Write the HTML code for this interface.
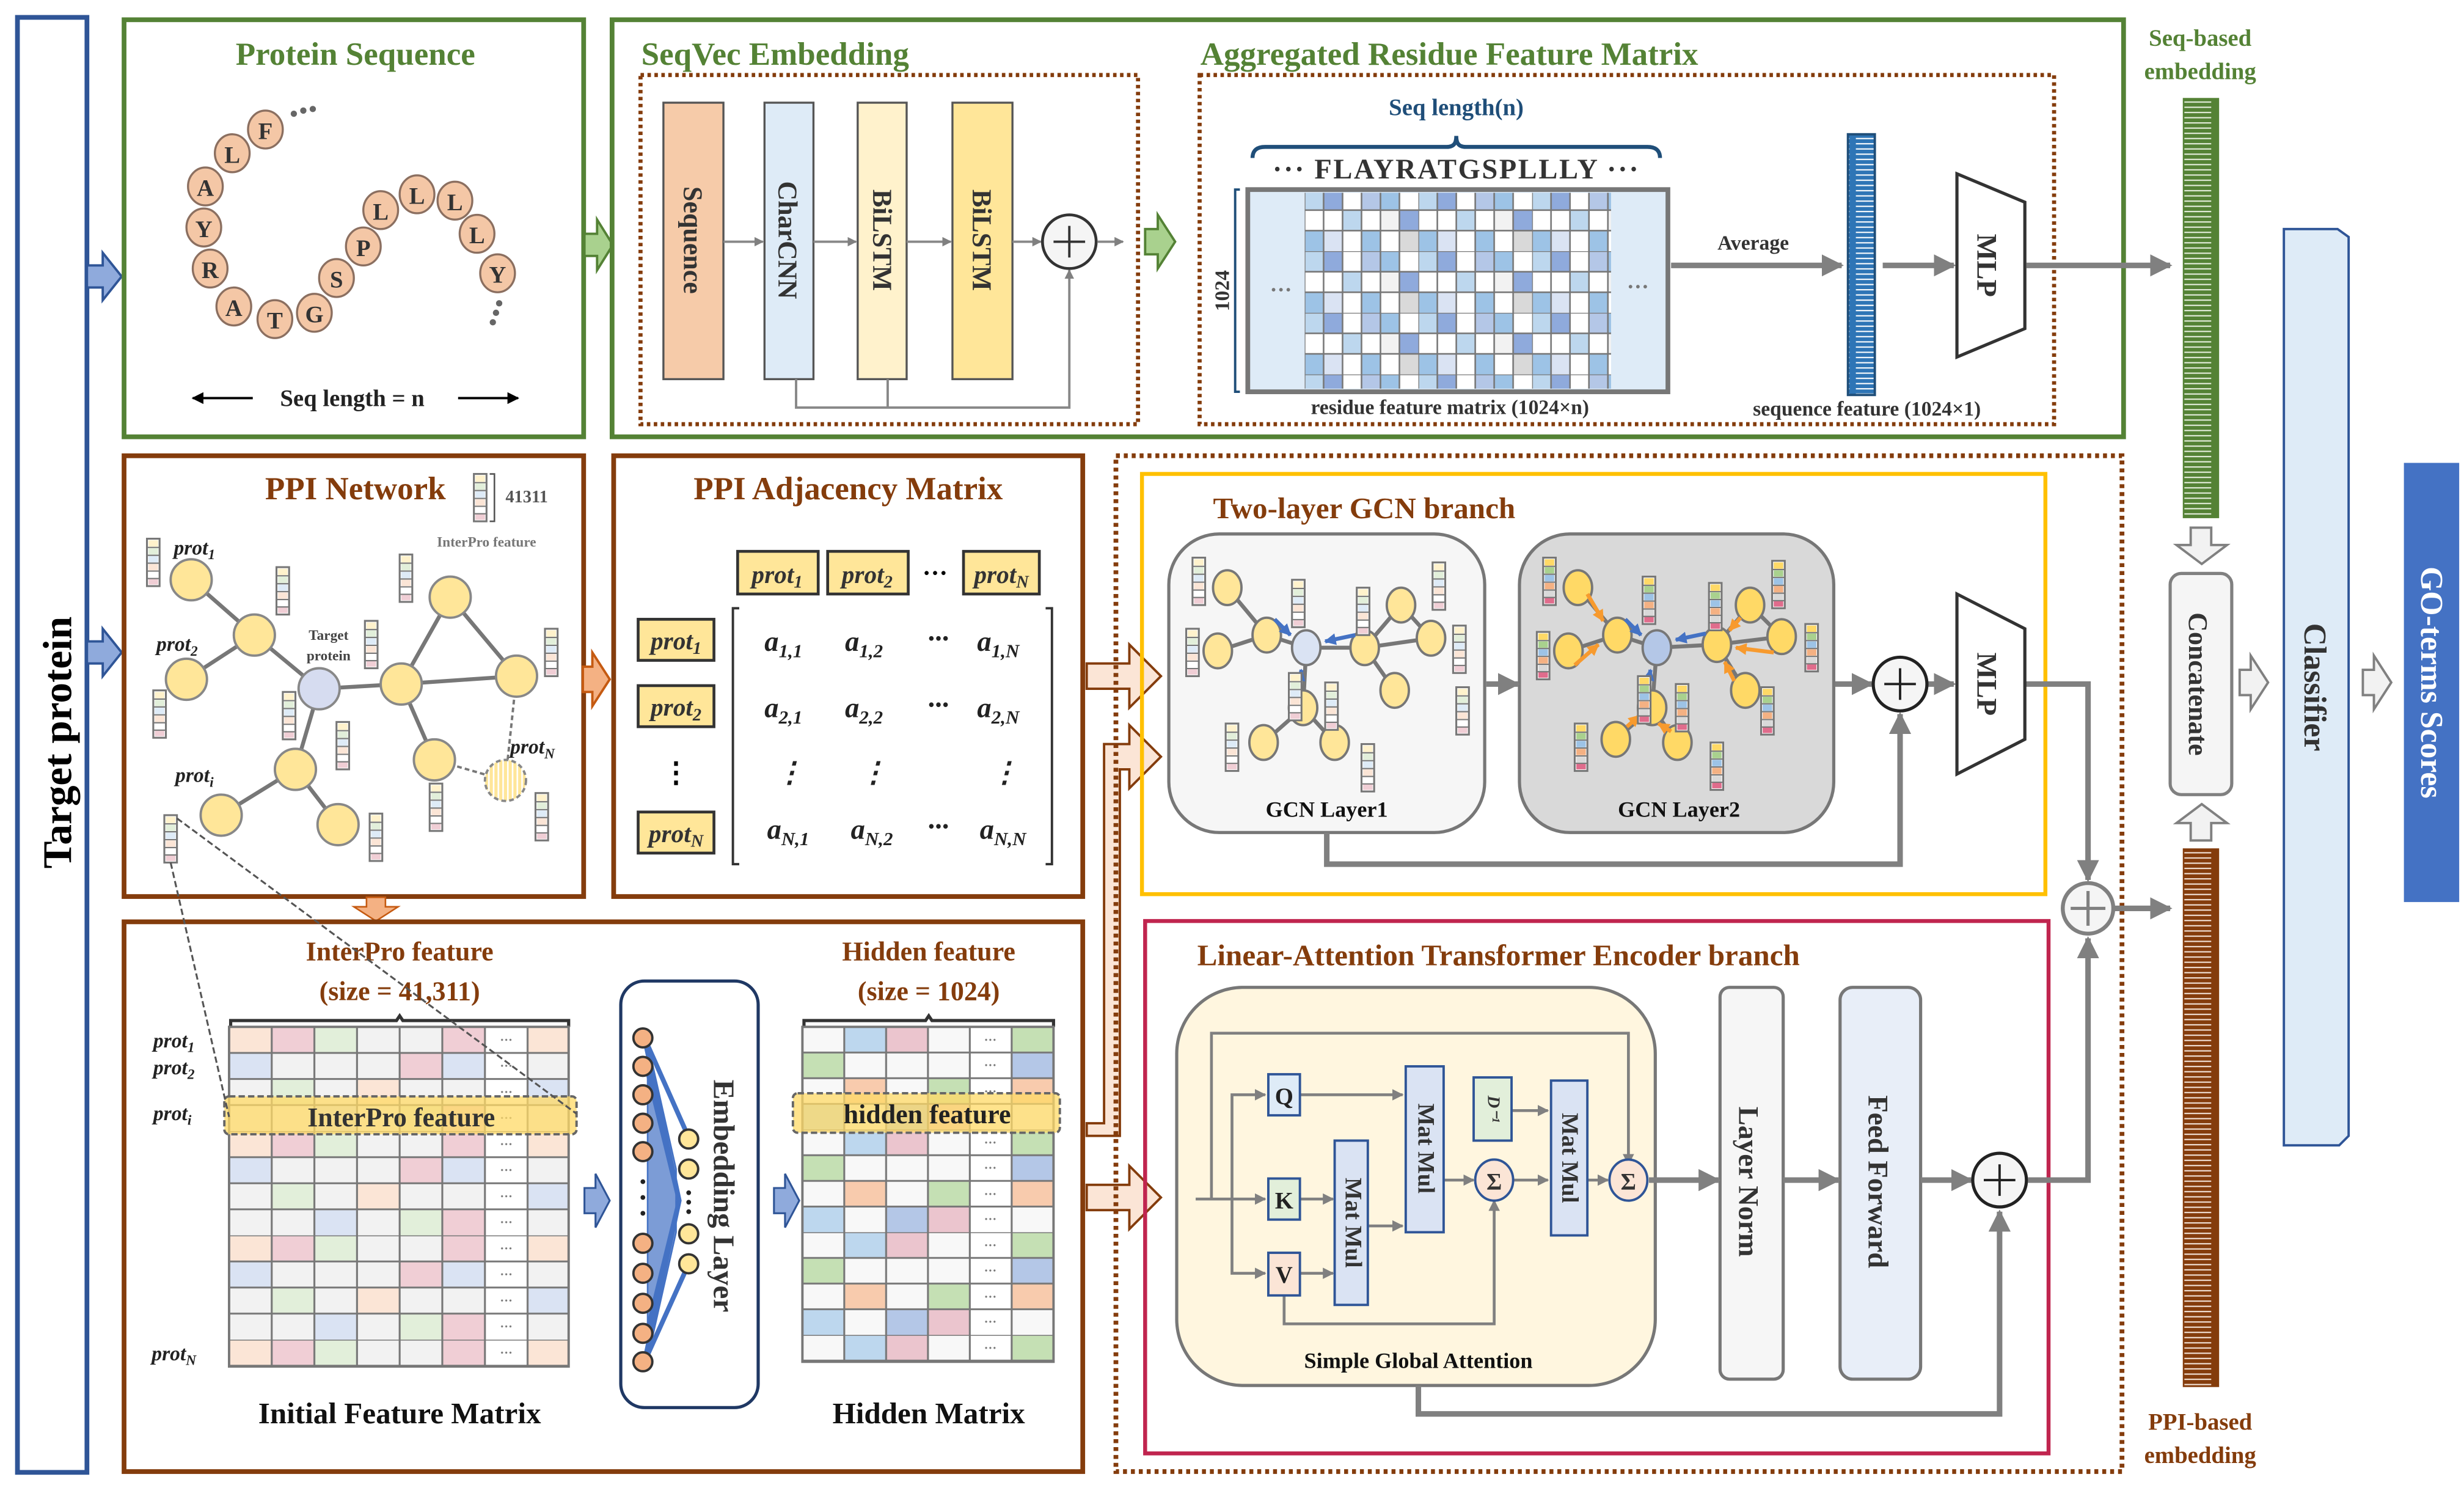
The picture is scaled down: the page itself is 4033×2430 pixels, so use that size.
<!DOCTYPE html>
<html><head><meta charset="utf-8"><style>
html,body{margin:0;padding:0;background:#fff;}
svg{display:block;}
text{font-family:"Liberation Serif",serif;font-weight:bold;}
</style></head><body>
<svg width="4033" height="2430" viewBox="0 0 1560 940" xmlns="http://www.w3.org/2000/svg">
<defs>
<marker id="ag" viewBox="0 0 10 10" refX="9" refY="5" markerWidth="4" markerHeight="4" orient="auto"><path d="M0,0L10,5L0,10z" fill="#808080"/></marker>
<marker id="ab" viewBox="0 0 10 10" refX="9" refY="5" markerWidth="3" markerHeight="3" orient="auto"><path d="M0,0L10,5L0,10z" fill="#4472C4"/></marker>
<marker id="ao" viewBox="0 0 10 10" refX="9" refY="5" markerWidth="3" markerHeight="3" orient="auto"><path d="M0,0L10,5L0,10z" fill="#F79A2E"/></marker>
<marker id="ak" viewBox="0 0 10 10" refX="9" refY="5" markerWidth="5" markerHeight="5" orient="auto"><path d="M0,0L10,5L0,10z" fill="#000"/></marker>
<pattern id="gs" width="23" height="3.3" patternUnits="userSpaceOnUse"><rect width="23" height="3.3" fill="#548235"/><rect x="3" y="1.5" width="17" height="0.8" fill="#e8f0e0"/></pattern>
<pattern id="bs" width="23" height="3.3" patternUnits="userSpaceOnUse"><rect width="23" height="3.3" fill="#843C0C"/><rect x="3" y="1.5" width="17" height="0.8" fill="#f5e6dc"/></pattern>
<pattern id="us" width="17" height="3.3" patternUnits="userSpaceOnUse"><rect width="17" height="3.3" fill="#2E75B6"/><rect x="2" y="1.5" width="13" height="0.8" fill="#fff"/></pattern>
<pattern id="rm" x="826" y="120" width="72" height="39" patternUnits="userSpaceOnUse">
<rect width="72" height="39" fill="#fff"/>
<rect x="0" y="0" width="12" height="13" fill="#BDD7EE"/><rect x="12" y="0" width="12" height="13" fill="#8FAADC"/><rect x="36" y="0" width="12" height="13" fill="#B4C7E7"/><rect x="48" y="0" width="12" height="13" fill="#9DC3E6"/>
<rect x="24" y="13" width="12" height="13" fill="#BDD7EE"/><rect x="48" y="13" width="12" height="13" fill="#F2F2F2"/><rect x="60" y="13" width="12" height="13" fill="#8FAADC"/>
<rect x="0" y="26" width="12" height="13" fill="#9DC3E6"/><rect x="12" y="26" width="12" height="13" fill="#DAE3F3"/><rect x="36" y="26" width="12" height="13" fill="#9DC3E6"/><rect x="60" y="26" width="12" height="13" fill="#D9D9D9"/>
<path d="M0,0H72M0,13H72M0,26H72M0,0V39M12,0V39M24,0V39M36,0V39M48,0V39M60,0V39" stroke="#777" stroke-width="1" fill="none"/>
</pattern>
<pattern id="fm" x="145" y="650" width="215" height="66" patternUnits="userSpaceOnUse">
<rect width="215" height="66" fill="#F2F2F2"/>
<rect x="0" y="0" width="27" height="16.5" fill="#FBE5D6"/><rect x="27" y="0" width="27" height="16.5" fill="#F0CED5"/><rect x="54" y="0" width="27" height="16.5" fill="#E2EFDA"/><rect x="135" y="0" width="27" height="16.5" fill="#F0CED5"/><rect x="189" y="0" width="26" height="16.5" fill="#FBE5D6"/>
<rect x="0" y="16.5" width="27" height="16.5" fill="#DAE3F3"/><rect x="108" y="16.5" width="27" height="16.5" fill="#F0CED5"/><rect x="135" y="16.5" width="27" height="16.5" fill="#DAE3F3"/>
<rect x="27" y="33" width="27" height="16.5" fill="#E2EFDA"/><rect x="81" y="33" width="27" height="16.5" fill="#FBE5D6"/><rect x="189" y="33" width="26" height="16.5" fill="#DAE3F3"/>
<rect x="54" y="49.5" width="27" height="16.5" fill="#DAE3F3"/><rect x="108" y="49.5" width="27" height="16.5" fill="#E2EFDA"/><rect x="135" y="49.5" width="27" height="16.5" fill="#F0CED5"/>
<rect x="162" y="0" width="27" height="66" fill="#fff"/>
<path d="M0,0H215M0,16.5H215M0,33H215M0,49.5H215M0,0V66M27,0V66M54,0V66M81,0V66M108,0V66M135,0V66M162,0V66M189,0V66" stroke="#777" stroke-width="1.2" fill="none"/>
<text x="175.5" y="11" font-size="8" text-anchor="middle" fill="#777">···</text><text x="175.5" y="27.5" font-size="8" text-anchor="middle" fill="#777">···</text><text x="175.5" y="44" font-size="8" text-anchor="middle" fill="#777">···</text><text x="175.5" y="60.5" font-size="8" text-anchor="middle" fill="#777">···</text>
</pattern>
<pattern id="hm" x="508" y="650" width="159" height="65" patternUnits="userSpaceOnUse">
<rect width="159" height="65" fill="#F8F8F8"/>
<rect x="26.5" y="0" width="26.5" height="16.25" fill="#BDD7EE"/><rect x="53" y="0" width="26.5" height="16.25" fill="#EBC5CE"/><rect x="132.5" y="0" width="26.5" height="16.25" fill="#C5E0B4"/>
<rect x="0" y="16.25" width="26.5" height="16.25" fill="#C5E0B4"/><rect x="132.5" y="16.25" width="26.5" height="16.25" fill="#B4C7E7"/>
<rect x="26.5" y="32.5" width="26.5" height="16.25" fill="#F8CBAD"/><rect x="79.5" y="32.5" width="26.5" height="16.25" fill="#C5E0B4"/><rect x="132.5" y="32.5" width="26.5" height="16.25" fill="#F8CBAD"/>
<rect x="0" y="48.75" width="26.5" height="16.25" fill="#BDD7EE"/><rect x="53" y="48.75" width="26.5" height="16.25" fill="#B4C7E7"/><rect x="79.5" y="48.75" width="26.5" height="16.25" fill="#EBC5CE"/>
<rect x="106" y="0" width="26.5" height="65" fill="#fff"/>
<path d="M0,0H159M0,16.25H159M0,32.5H159M0,48.75H159M0,0V65M26.5,0V65M53,0V65M79.5,0V65M106,0V65M132.5,0V65" stroke="#777" stroke-width="1.2" fill="none"/>
<text x="119" y="11" font-size="8" text-anchor="middle" fill="#777">···</text><text x="119" y="27" font-size="8" text-anchor="middle" fill="#777">···</text><text x="119" y="43.5" font-size="8" text-anchor="middle" fill="#777">···</text><text x="119" y="59.5" font-size="8" text-anchor="middle" fill="#777">···</text>
</pattern>
<pattern id="hatch" width="3" height="3" patternUnits="userSpaceOnUse"><rect width="3" height="3" fill="#FFE699"/><rect width="1" height="3" fill="#fff"/></pattern>
<g id="fb"><rect x="0" y="0" width="8" height="30" fill="#fff" stroke="#777" stroke-width="1.2"/><rect x="1" y="1" width="6" height="4" fill="#FFF2CC"/><rect x="1" y="6" width="6" height="4" fill="#E2EFDA"/><rect x="1" y="11" width="6" height="4" fill="#DEEBF7"/><rect x="1" y="16" width="6" height="4" fill="#FBE5D6"/><rect x="1" y="21" width="6" height="4" fill="#fff"/><rect x="1" y="25.5" width="6" height="3.5" fill="#F0CED5"/><path d="M0,5.5H8M0,10.5H8M0,15.5H8M0,20.5H8M0,25.2H8" stroke="#777" stroke-width="0.8"/></g>
<g id="fc"><rect x="0" y="0" width="8" height="30" fill="#fff" stroke="#777" stroke-width="1.2"/><rect x="1" y="1" width="6" height="4" fill="#FFD966"/><rect x="1" y="6" width="6" height="4" fill="#A9D18E"/><rect x="1" y="11" width="6" height="4" fill="#9DC3E6"/><rect x="1" y="16" width="6" height="4" fill="#F4B183"/><rect x="1" y="21" width="6" height="4" fill="#D9D9D9"/><rect x="1" y="25.5" width="6" height="3.5" fill="#E06C8C"/><path d="M0,5.5H8M0,10.5H8M0,15.5H8M0,20.5H8M0,25.2H8" stroke="#777" stroke-width="0.8"/></g>
</defs>

<!-- Target protein -->
<rect x="11" y="11" width="44" height="921" fill="#fff" stroke="#2F5597" stroke-width="3"/>
<text transform="translate(45,470) rotate(-90)" font-size="26" text-anchor="middle">Target protein</text>
<path d="M55,168h10v-8l12,15l-12,15v-8h-10z" fill="#8FAADC" stroke="#2F5597" stroke-width="1.5"/>
<path d="M55,406h10v-8l12,15l-12,15v-8h-10z" fill="#8FAADC" stroke="#2F5597" stroke-width="1.5"/>

<!-- Protein sequence -->
<rect x="78.5" y="12.5" width="291" height="264" fill="#fff" stroke="#548235" stroke-width="3"/>
<text x="225" y="41" font-size="20.5" text-anchor="middle" fill="#548235">Protein Sequence</text>
<g fill="#F4C7A6" stroke="#8B6F60" stroke-width="1.3" font-size="15">
<ellipse cx="168" cy="82" rx="11" ry="12"/><ellipse cx="147" cy="97" rx="11" ry="12"/><ellipse cx="130" cy="118" rx="11" ry="12"/><ellipse cx="129" cy="144" rx="11" ry="12"/><ellipse cx="133" cy="170" rx="11" ry="12"/><ellipse cx="148" cy="194" rx="11" ry="12"/><ellipse cx="174" cy="202" rx="11" ry="12"/><ellipse cx="199" cy="198" rx="11" ry="12"/><ellipse cx="213" cy="176" rx="11" ry="12"/><ellipse cx="230" cy="156" rx="11" ry="12"/><ellipse cx="241" cy="133" rx="11" ry="12"/><ellipse cx="264" cy="123" rx="11" ry="12"/><ellipse cx="288" cy="127" rx="11" ry="12"/><ellipse cx="302" cy="148" rx="11" ry="12"/><ellipse cx="315" cy="173" rx="11" ry="12"/>
</g>
<g font-size="15" text-anchor="middle" fill="#333">
<text x="168" y="88">F</text><text x="147" y="103">L</text><text x="130" y="124">A</text><text x="129" y="150">Y</text><text x="133" y="176">R</text><text x="148" y="200">A</text><text x="174" y="208">T</text><text x="199" y="204">G</text><text x="213" y="182">S</text><text x="230" y="162">P</text><text x="241" y="139">L</text><text x="264" y="129">L</text><text x="288" y="133">L</text><text x="302" y="154">L</text><text x="315" y="179">Y</text>
</g>
<g fill="#666"><circle cx="186" cy="72" r="2"/><circle cx="192" cy="70" r="2"/><circle cx="198" cy="69" r="2"/><circle cx="316" cy="192" r="2"/><circle cx="314" cy="198" r="2"/><circle cx="312" cy="204" r="2"/></g>
<text x="223" y="257" font-size="15" text-anchor="middle" fill="#222" font-weight="normal">Seq length = n</text>
<line x1="160" y1="252" x2="122" y2="252" stroke="#000" stroke-width="1.5" marker-end="url(#ak)"/>
<line x1="290" y1="252" x2="328" y2="252" stroke="#000" stroke-width="1.5" marker-end="url(#ak)"/>
<path d="M370,148h8v-9l10,16l-10,16v-9h-8z" fill="#A9D18E" stroke="#548235" stroke-width="1.5"/>

<!-- SeqVec outer -->
<rect x="387.5" y="12.5" width="957" height="264" fill="none" stroke="#548235" stroke-width="3"/>
<text x="406" y="41" font-size="20.5" fill="#548235">SeqVec  Embedding</text>
<text x="760" y="41" font-size="20.5" fill="#548235">Aggregated Residue Feature Matrix</text>
<rect x="405.5" y="47.5" width="315" height="221" fill="none" stroke="#843C0C" stroke-width="2.6" stroke-dasharray="2.2,2.2"/>
<rect x="420" y="65" width="38" height="175" fill="#F6CBA9" stroke="#555" stroke-width="1.3"/>
<rect x="484" y="65" width="31" height="175" fill="#DEEBF7" stroke="#555" stroke-width="1.3"/>
<rect x="543" y="65" width="31" height="175" fill="#FFF2CC" stroke="#555" stroke-width="1.3"/>
<rect x="603" y="65" width="38" height="175" fill="#FFE699" stroke="#555" stroke-width="1.3"/>
<g font-size="17" fill="#333">
<text transform="translate(433,152) rotate(90)" text-anchor="middle">Sequence</text>
<text transform="translate(493,152) rotate(90)" text-anchor="middle">CharCNN</text>
<text transform="translate(553,152) rotate(90)" text-anchor="middle">BiLSTM</text>
<text transform="translate(616,152) rotate(90)" text-anchor="middle">BiLSTM</text>
</g>
<g stroke="#888" stroke-width="1.5" fill="none">
<line x1="458" y1="153" x2="483" y2="153" marker-end="url(#ag)"/>
<line x1="515" y1="153" x2="542" y2="153" marker-end="url(#ag)"/>
<line x1="574" y1="153" x2="602" y2="153" marker-end="url(#ag)"/>
<line x1="641" y1="153" x2="659" y2="153" marker-end="url(#ag)"/>
<line x1="695" y1="153" x2="711" y2="153" marker-end="url(#ag)"/>
<path d="M504,240V258H677V171" marker-end="url(#ag)"/><path d="M562,240V258"/>
</g>
<circle cx="677" cy="153" r="17" fill="#f5f5f5" stroke="#333" stroke-width="1.8"/>
<path d="M667,153h20M677,143v20" stroke="#333" stroke-width="1.5"/>
<path d="M725,145h8v-9l11,17l-11,17v-9h-8z" fill="#A9D18E" stroke="#548235" stroke-width="1.5"/>

<rect x="759.5" y="47.5" width="541" height="221" fill="none" stroke="#843C0C" stroke-width="2.6" stroke-dasharray="2.2,2.2"/>
<text x="922" y="73" font-size="15" text-anchor="middle" fill="#1F4E79">Seq length(n)</text>
<path d="M793,100c0,-5 3,-7 8,-7h115c5,0 6,-3 6,-7c0,4 1,7 6,7h115c5,0 8,2 8,7" fill="none" stroke="#1F4E79" stroke-width="2.5"/>
<text x="922" y="113" font-size="18" text-anchor="middle" fill="#333" letter-spacing="1">··· FLAYRATGSPLLLY ···</text>
<rect x="790" y="120" width="266" height="128" fill="#DEEBF7" stroke="#777" stroke-width="3"/>
<rect x="826" y="122" width="194" height="124" fill="url(#rm)"/>
<text x="811" y="188" font-size="14" text-anchor="middle" fill="#777">···</text>
<text x="1037" y="186" font-size="14" text-anchor="middle" fill="#777">···</text>
<path d="M785,120h-3v128h3" fill="none" stroke="#1F4E79" stroke-width="1.5"/>
<text transform="translate(778,184) rotate(-90)" font-size="13" text-anchor="middle" fill="#333">1024</text>
<text x="918" y="262" font-size="13" text-anchor="middle" fill="#333">residue feature matrix (1024×n)</text>
<text x="1110" y="158" font-size="13" text-anchor="middle" fill="#333">Average</text>
<line x1="1058" y1="168" x2="1166" y2="168" stroke="#808080" stroke-width="3.5" marker-end="url(#ag)"/>
<rect x="1170" y="85" width="17" height="165" fill="url(#us)" stroke="#1F4E79" stroke-width="1.5"/>
<text x="1182" y="263" font-size="13" text-anchor="middle" fill="#333">sequence feature (1024×1)</text>
<line x1="1192" y1="168" x2="1237" y2="168" stroke="#808080" stroke-width="3.5" marker-end="url(#ag)"/>
<path d="M1239,110L1282,128V208L1239,226z" fill="#fff" stroke="#333" stroke-width="2"/>
<text transform="translate(1252,168) rotate(90)" font-size="18" text-anchor="middle" fill="#333">MLP</text>
<line x1="1283" y1="168" x2="1374" y2="168" stroke="#808080" stroke-width="3.5" marker-end="url(#ag)"/>

<!-- Right column -->
<text x="1393" y="29" font-size="15" text-anchor="middle" fill="#548235">Seq-based</text>
<text x="1393" y="50" font-size="15" text-anchor="middle" fill="#548235">embedding</text>
<rect x="1382" y="62" width="23" height="266" fill="url(#gs)"/>
<path d="M1387,334h13v11h10l-16,12l-16,-12h9z" fill="#f2f2f2" stroke="#808080" stroke-width="1.5"/>
<rect x="1374" y="363" width="39" height="140" rx="7" fill="#f5f5f5" stroke="#808080" stroke-width="2"/>
<text transform="translate(1386,433) rotate(90)" font-size="17" text-anchor="middle" fill="#333">Concatenate</text>
<path d="M1387,532h13v-11h10l-16,-12l-16,12h9z" fill="#f2f2f2" stroke="#808080" stroke-width="1.5"/>
<rect x="1382" y="537" width="23" height="341" fill="url(#bs)"/>
<text x="1393" y="905" font-size="15" text-anchor="middle" fill="#843C0C">PPI-based</text>
<text x="1393" y="926" font-size="15" text-anchor="middle" fill="#843C0C">embedding</text>
<path d="M1418,424h7v-9l11,17l-11,17v-9h-7z" fill="#f2f2f2" stroke="#808080" stroke-width="1.5"/>
<path d="M1446,145H1480L1487,150V719L1481,725H1446z" fill="#DEEBF7" stroke="#2F5597" stroke-width="1.5"/>
<text transform="translate(1459,435) rotate(90)" font-size="20" text-anchor="middle" fill="#333">Classifier</text>
<path d="M1496,424h7v-9l11,17l-11,17v-9h-7z" fill="#f2f2f2" stroke="#808080" stroke-width="1.5"/>
<rect x="1522" y="293" width="35" height="278" fill="#4472C4"/>
<text transform="translate(1533,432) rotate(90)" font-size="20" text-anchor="middle" fill="#fff">GO-terms Scores</text>

<!-- PPI Network -->
<rect x="78.5" y="288.5" width="291" height="279" fill="#fff" stroke="#843C0C" stroke-width="3"/>
<text x="225" y="316" font-size="20.5" text-anchor="middle" fill="#843C0C">PPI Network</text>
<use href="#fb" x="300" y="300"/>
<path d="M310,300h3v30h-3" fill="none" stroke="#555" stroke-width="1"/>
<text x="320" y="318" font-size="11" fill="#555" font-weight="normal">41311</text>
<text x="308" y="346" font-size="9" text-anchor="middle" fill="#777" font-weight="normal">InterPro feature</text>
<g stroke="#777" stroke-width="2.5" fill="none">
<path d="M121,367L161,402L202,436L254,433L285,378L327,428M118,430L161,402M254,433L327,428M202,436L187,487L140,516M187,487L214,522M254,433L275,481"/>
<path d="M275,481L320,494M327,428L320,494" stroke-dasharray="3,2" stroke-width="1.5"/>
</g>
<g fill="#FFE699" stroke="#888" stroke-width="1.5">
<circle cx="121" cy="367" r="13"/><circle cx="161" cy="402" r="13"/><circle cx="118" cy="430" r="13"/><circle cx="254" cy="433" r="13"/><circle cx="285" cy="378" r="13"/><circle cx="327" cy="428" r="13"/><circle cx="187" cy="487" r="13"/><circle cx="140" cy="516" r="13"/><circle cx="214" cy="522" r="13"/><circle cx="275" cy="481" r="13"/>
</g>
<circle cx="202" cy="436" r="13" fill="#D6DCF0" stroke="#888" stroke-width="1.5"/>
<circle cx="320" cy="494" r="13" fill="url(#hatch)" stroke="#888" stroke-width="1.5" stroke-dasharray="3,2"/>
<g font-style="italic" font-size="13" fill="#222">
<text x="110" y="351">prot<tspan font-size="9" dy="3">1</tspan></text>
<text x="99" y="412">prot<tspan font-size="9" dy="3">2</tspan></text>
<text x="111" y="495">prot<tspan font-size="9" dy="3">i</tspan></text>
<text x="323" y="477">prot<tspan font-size="9" dy="3">N</tspan></text>
</g>
<text x="208" y="405" font-size="9" text-anchor="middle" fill="#444" font-weight="normal">Target</text>
<text x="208" y="418" font-size="9" text-anchor="middle" fill="#444" font-weight="normal">protein</text>
<use href="#fb" x="93" y="341"/><use href="#fb" x="175" y="359"/><use href="#fb" x="253" y="351"/><use href="#fb" x="231" y="393"/><use href="#fb" x="345" y="398"/><use href="#fb" x="97" y="437"/><use href="#fb" x="179" y="438"/><use href="#fb" x="213" y="457"/><use href="#fb" x="272" y="496"/><use href="#fb" x="339" y="502"/><use href="#fb" x="234" y="515"/><use href="#fb" x="104" y="516"/>
<path d="M232,568h12v6h8l-14,9l-14,-9h8z" fill="#F4B183" stroke="#C55A11" stroke-width="1"/>
<path d="M369,422h6v-9l11,17l-11,17v-9h-6z" fill="#F4B183" stroke="#C55A11" stroke-width="1.5"/>

<!-- PPI Adjacency -->
<rect x="388.5" y="288.5" width="297" height="279" fill="#fff" stroke="#843C0C" stroke-width="3"/>
<text x="537" y="316" font-size="20.5" text-anchor="middle" fill="#843C0C">PPI Adjacency Matrix</text>
<g fill="#FFE699" stroke="#333" stroke-width="1.8">
<rect x="467" y="349" width="51" height="27"/><rect x="524" y="349" width="51" height="27"/><rect x="610" y="349" width="48" height="27"/>
<rect x="404" y="392" width="48" height="26"/><rect x="404" y="434" width="48" height="26"/><rect x="404" y="514" width="48" height="26"/>
</g>
<g font-style="italic" font-size="16" fill="#333" font-weight="normal" text-anchor="middle">
<text x="492" y="369">prot<tspan font-size="11" dy="3">1</tspan></text>
<text x="549" y="369">prot<tspan font-size="11" dy="3">2</tspan></text>
<text x="634" y="369">prot<tspan font-size="11" dy="3">N</tspan></text>
<text x="428" y="411">prot<tspan font-size="11" dy="3">1</tspan></text>
<text x="428" y="453">prot<tspan font-size="11" dy="3">2</tspan></text>
<text x="428" y="533">prot<tspan font-size="11" dy="3">N</tspan></text>
</g>
<text x="592" y="368" font-size="16" text-anchor="middle">···</text>
<text x="428" y="495" font-size="18" text-anchor="middle">⋮</text>
<path d="M468,385h-4v162h4M662,385h4v162h-4" fill="none" stroke="#333" stroke-width="1.5"/>
<g font-style="italic" font-size="18" fill="#222" text-anchor="middle">
<text x="496" y="412">a<tspan font-size="12" dy="4">1,1</tspan></text><text x="547" y="412">a<tspan font-size="12" dy="4">1,2</tspan></text><text x="594" y="410">···</text><text x="632" y="412">a<tspan font-size="12" dy="4">1,N</tspan></text>
<text x="496" y="454">a<tspan font-size="12" dy="4">2,1</tspan></text><text x="547" y="454">a<tspan font-size="12" dy="4">2,2</tspan></text><text x="594" y="452">···</text><text x="632" y="454">a<tspan font-size="12" dy="4">2,N</tspan></text>
<text x="500" y="495">⋮</text><text x="553" y="495">⋮</text><text x="636" y="495">⋮</text>
<text x="499" y="531">a<tspan font-size="12" dy="4">N,1</tspan></text><text x="552" y="531">a<tspan font-size="12" dy="4">N,2</tspan></text><text x="594" y="529">···</text><text x="635" y="531">a<tspan font-size="12" dy="4">N,N</tspan></text>
</g>

<!-- bottom left box -->
<rect x="78.5" y="583.5" width="607" height="348" fill="#fff" stroke="#843C0C" stroke-width="3"/>
<text x="253" y="608" font-size="17" text-anchor="middle" fill="#843C0C">InterPro feature</text>
<text x="253" y="633" font-size="17" text-anchor="middle" fill="#843C0C">(size = 41,311)</text>
<path d="M146,650v-4h105l2,-3l2,3h105v4" fill="none" stroke="#333" stroke-width="2"/>
<rect x="145" y="650" width="215" height="215" fill="url(#fm)" stroke="#777" stroke-width="1.5"/>
<rect x="142" y="694" width="223" height="24" rx="3" fill="#FFD966" fill-opacity="0.75" stroke="#666" stroke-width="1.5" stroke-dasharray="4,2"/>
<text x="254" y="713" font-size="17" text-anchor="middle" fill="#333">InterPro feature</text>
<path d="M108,546L145,707M112,518L365,705" stroke="#555" stroke-width="1.2" stroke-dasharray="4,2" fill="none"/>
<g font-style="italic" font-size="13" fill="#222">
<text x="97" y="663">prot<tspan font-size="9" dy="3">1</tspan></text>
<text x="97" y="680">prot<tspan font-size="9" dy="3">2</tspan></text>
<text x="97" y="709">prot<tspan font-size="9" dy="3">i</tspan></text>
<text x="96" y="861">prot<tspan font-size="9" dy="3">N</tspan></text>
</g>
<text x="253" y="901" font-size="19" text-anchor="middle" fill="#111">Initial Feature Matrix</text>
<path d="M370,752h7v-9l9,17l-9,17v-9h-7z" fill="#8FAADC" stroke="#2F5597" stroke-width="1.2"/>
<rect x="393" y="621" width="87" height="270" rx="15" fill="#fff" stroke="#1F3864" stroke-width="2"/>
<g stroke="#4472C4" stroke-width="1" fill="#4472C4">
<path d="M408,657L430,760L408,862M408,657L436,720M408,862L436,800M430,760L408,670M430,760L408,850" fill="none" stroke-width="3"/>
<path d="M410,660L428,740L428,780L410,860z" fill="#4472C4" fill-opacity="0.7"/>
</g>
<g fill="#F4B183" stroke="#333" stroke-width="1.5">
<circle cx="407" cy="657" r="6"/><circle cx="407" cy="675" r="6"/><circle cx="407" cy="693" r="6"/><circle cx="407" cy="711" r="6"/><circle cx="407" cy="729" r="6"/><circle cx="407" cy="787" r="6"/><circle cx="407" cy="806" r="6"/><circle cx="407" cy="825" r="6"/><circle cx="407" cy="844" r="6"/><circle cx="407" cy="862" r="6"/>
</g>
<g fill="#FFE699" stroke="#333" stroke-width="1.5"><circle cx="436" cy="721" r="6"/><circle cx="436" cy="740" r="6"/><circle cx="436" cy="781" r="6"/><circle cx="436" cy="800" r="6"/></g>
<g fill="#222"><circle cx="407" cy="748" r="1.5"/><circle cx="407" cy="758" r="1.5"/><circle cx="407" cy="768" r="1.5"/><circle cx="436" cy="755" r="1.5"/><circle cx="436" cy="761" r="1.5"/><circle cx="436" cy="767" r="1.5"/></g>
<text transform="translate(452,757) rotate(90)" font-size="19" text-anchor="middle" fill="#333">Embedding Layer</text>
<path d="M490,752h7v-9l9,17l-9,17v-9h-7z" fill="#8FAADC" stroke="#2F5597" stroke-width="1.2"/>
<text x="588" y="608" font-size="17" text-anchor="middle" fill="#843C0C">Hidden feature</text>
<text x="588" y="633" font-size="17" text-anchor="middle" fill="#843C0C">(size = 1024)</text>
<path d="M509,650v-4h77l2,-3l2,3h77v4" fill="none" stroke="#333" stroke-width="2"/>
<rect x="508" y="650" width="159" height="212" fill="url(#hm)" stroke="#777" stroke-width="1.5"/>
<rect x="502" y="692" width="169" height="25" rx="3" fill="#FFD966" fill-opacity="0.75" stroke="#666" stroke-width="1.5" stroke-dasharray="4,2"/>
<text x="587" y="711" font-size="17" text-anchor="middle" fill="#222">hidden feature</text>
<text x="588" y="901" font-size="19" text-anchor="middle" fill="#111">Hidden Matrix</text>

<!-- peach arrows -->
<path d="M688,420h27v-12l20,20l-20,20v-12h-27z" fill="#FBE5D6" stroke="#843C0C" stroke-width="1.5"/>
<path d="M688,711h11v-240h16v-12l20,20l-20,20v-12h-6v232h-21z" fill="#FBE5D6" stroke="#843C0C" stroke-width="1.5"/>
<path d="M688,750h27v-12l20,20l-20,20v-12h-27z" fill="#FBE5D6" stroke="#843C0C" stroke-width="1.5"/>

<!-- big dotted -->
<rect x="706.5" y="288.5" width="637" height="643" fill="none" stroke="#843C0C" stroke-width="3" stroke-dasharray="2.5,2.5"/>

<!-- GCN branch -->
<rect x="723" y="300" width="572" height="266" fill="none" stroke="#FFC000" stroke-width="2.5"/>
<text x="768" y="328" font-size="19" fill="#843C0C">Two-layer GCN branch</text>
<rect x="740" y="338" width="200" height="189" rx="32" fill="#F6F6F6" stroke="#777" stroke-width="2"/>
<rect x="962" y="338" width="199" height="189" rx="32" fill="#D9D9D9" stroke="#777" stroke-width="2"/>
<g stroke="#777" stroke-width="2.5" fill="none">
<path d="M777,372L802,402L827,410L864,410L887,383L906,404M771,412L802,402M864,410L906,404M827,410L825,448L800,470M825,448L845,470M864,410L883,437"/>
<path d="M999,372L1024,402L1049,410L1087,408L1108,383L1128,403M993,412L1024,402M1087,408L1128,403M1049,410L1046,448L1023,468M1046,448L1062,470M1087,408L1105,437"/>
</g>
<g fill="#FFE699" stroke="#777" stroke-width="1.5">
<ellipse cx="777" cy="372" rx="9" ry="11"/><ellipse cx="771" cy="412" rx="9" ry="11"/><ellipse cx="802" cy="402" rx="9" ry="11"/><ellipse cx="864" cy="410" rx="9" ry="11"/><ellipse cx="887" cy="383" rx="9" ry="11"/><ellipse cx="906" cy="404" rx="9" ry="11"/><ellipse cx="883" cy="437" rx="9" ry="11"/><ellipse cx="825" cy="448" rx="9" ry="11"/><ellipse cx="800" cy="470" rx="9" ry="11"/><ellipse cx="845" cy="470" rx="9" ry="11"/>
</g>
<ellipse cx="827" cy="410" rx="9" ry="11" fill="#DAE3F3" stroke="#777" stroke-width="1.5"/>
<g fill="#FFD966" stroke="#777" stroke-width="1.5">
<ellipse cx="999" cy="372" rx="9" ry="11"/><ellipse cx="993" cy="412" rx="9" ry="11"/><ellipse cx="1024" cy="402" rx="9" ry="11"/><ellipse cx="1087" cy="408" rx="9" ry="11"/><ellipse cx="1108" cy="383" rx="9" ry="11"/><ellipse cx="1128" cy="403" rx="9" ry="11"/><ellipse cx="1105" cy="437" rx="9" ry="11"/><ellipse cx="1046" cy="448" rx="9" ry="11"/><ellipse cx="1023" cy="468" rx="9" ry="11"/><ellipse cx="1062" cy="470" rx="9" ry="11"/>
</g>
<ellipse cx="1049" cy="410" rx="9" ry="11" fill="#B4C7E7" stroke="#777" stroke-width="1.5"/>
<g stroke="#4472C4" stroke-width="2.5" marker-end="url(#ab)">
<line x1="807" y1="392" x2="817" y2="402"/><line x1="858" y1="402" x2="839" y2="406"/><line x1="820" y1="444" x2="824" y2="424"/>
<line x1="1029" y1="392" x2="1039" y2="402"/><line x1="1080" y1="401" x2="1061" y2="405"/><line x1="1041" y1="444" x2="1045" y2="424"/>
</g>
<g stroke="#F79A2E" stroke-width="2.5" marker-end="url(#ao)">
<line x1="1005" y1="376" x2="1015" y2="393"/><line x1="997" y1="421" x2="1012" y2="408"/><line x1="1102" y1="391" x2="1095" y2="399"/><line x1="1123" y1="413" x2="1099" y2="410"/><line x1="1098" y1="431" x2="1092" y2="419"/><line x1="1030" y1="460" x2="1038" y2="453"/><line x1="1058" y1="463" x2="1050" y2="458"/>
</g>
<use href="#fb" x="755" y="353"/><use href="#fb" x="818" y="367"/><use href="#fb" x="859" y="372"/><use href="#fb" x="907" y="356"/><use href="#fb" x="751" y="398"/><use href="#fb" x="816" y="426"/><use href="#fb" x="920" y="396"/><use href="#fb" x="839" y="432"/><use href="#fb" x="776" y="458"/><use href="#fb" x="922" y="435"/><use href="#fb" x="862" y="471"/>
<use href="#fc" x="977" y="353"/><use href="#fc" x="1040" y="365"/><use href="#fc" x="1082" y="369"/><use href="#fc" x="1122" y="355"/><use href="#fc" x="973" y="400"/><use href="#fc" x="1037" y="428"/><use href="#fc" x="1143" y="395"/><use href="#fc" x="1061" y="433"/><use href="#fc" x="997" y="458"/><use href="#fc" x="1115" y="435"/><use href="#fc" x="1083" y="470"/>
<text x="840" y="517" font-size="14" text-anchor="middle" fill="#111">GCN  Layer1</text>
<text x="1063" y="517" font-size="14" text-anchor="middle" fill="#111">GCN  Layer2</text>
<g stroke="#808080" stroke-width="3.5" fill="none">
<line x1="941" y1="433" x2="961" y2="433" marker-end="url(#ag)"/>
<line x1="1162" y1="433" x2="1185" y2="433" marker-end="url(#ag)"/>
<line x1="1220" y1="433" x2="1237" y2="433" marker-end="url(#ag)"/>
<path d="M840,527V547H1203V452" marker-end="url(#ag)"/>
<path d="M1282,433H1322V557" marker-end="url(#ag)"/>
</g>
<circle cx="1203" cy="433" r="17" fill="#f5f5f5" stroke="#222" stroke-width="2"/>
<path d="M1193,433h20M1203,423v20" stroke="#222" stroke-width="1.5"/>
<path d="M1239,376L1282,398V468L1239,490z" fill="#fff" stroke="#333" stroke-width="2"/>
<text transform="translate(1252,433) rotate(90)" font-size="18" text-anchor="middle" fill="#333">MLP</text>

<!-- Transformer branch -->
<rect x="725" y="583" width="572" height="337" fill="none" stroke="#C0254F" stroke-width="2.5"/>
<text x="758" y="611" font-size="19" fill="#843C0C">Linear-Attention Transformer Encoder branch</text>
<rect x="745" y="625" width="303" height="252" rx="42" fill="#FFF6DF" stroke="#777" stroke-width="2"/>
<g stroke="#808080" stroke-width="1.8" fill="none">
<path d="M757,759H801" marker-end="url(#ag)"/>
<path d="M767,759V654H1031V737" marker-end="url(#ag)"/>
<path d="M780,759V693H801" marker-end="url(#ag)"/>
<path d="M780,759V806H801" marker-end="url(#ag)"/>
<path d="M823,693H888" marker-end="url(#ag)"/>
<path d="M823,759H844" marker-end="url(#ag)"/>
<path d="M823,806H844" marker-end="url(#ag)"/>
<path d="M866,776H888" marker-end="url(#ag)"/>
<path d="M914,747H933" marker-end="url(#ag)"/>
<path d="M958,747H980" marker-end="url(#ag)"/>
<path d="M957,703H980" marker-end="url(#ag)"/>
<path d="M1005,747H1018" marker-end="url(#ag)"/>
<path d="M813,820V838H946V760" marker-end="url(#ag)"/>
</g>
<rect x="803" y="680" width="20" height="26" fill="#DEEBF7" stroke="#2F5597" stroke-width="1.5"/>
<rect x="803" y="746" width="20" height="26" fill="#E2EFDA" stroke="#2F5597" stroke-width="1.5"/>
<rect x="803" y="793" width="20" height="27" fill="#FBE5D6" stroke="#2F5597" stroke-width="1.5"/>
<g font-size="15" font-weight="normal" text-anchor="middle" fill="#222"><text x="813" y="699">Q</text><text x="813" y="765">K</text><text x="813" y="812">V</text></g>
<rect x="890" y="675" width="24" height="105" fill="#DAE3F3" stroke="#2F5597" stroke-width="1.5"/>
<rect x="845" y="722" width="21" height="104" fill="#DAE3F3" stroke="#2F5597" stroke-width="1.5"/>
<rect x="982" y="684" width="23" height="98" fill="#DAE3F3" stroke="#2F5597" stroke-width="1.5"/>
<rect x="933" y="682" width="24" height="40" fill="#E2EFDA" stroke="#2F5597" stroke-width="1.5"/>
<g font-size="15" font-weight="normal" fill="#333" text-anchor="middle">
<text transform="translate(898,727) rotate(90)">Mat Mul</text>
<text transform="translate(852,774) rotate(90)">Mat Mul</text>
<text transform="translate(989,733) rotate(90)">Mat Mul</text>
</g>
<text transform="translate(942,702) rotate(90)" font-size="11" font-style="italic" text-anchor="middle" fill="#333">D⁻¹</text>
<ellipse cx="946" cy="747" rx="12" ry="13" fill="#FBE5D6" stroke="#2F5597" stroke-width="1.5"/>
<ellipse cx="1031" cy="747" rx="12" ry="13" fill="#FBE5D6" stroke="#2F5597" stroke-width="1.5"/>
<g font-size="15" font-weight="normal" text-anchor="middle" fill="#333"><text x="946" y="753">Σ</text><text x="1031" y="753">Σ</text></g>
<text x="898" y="866" font-size="14" text-anchor="middle" fill="#111">Simple  Global  Attention</text>
<rect x="1089" y="625" width="40" height="248" rx="6" fill="#F6F6F6" stroke="#777" stroke-width="2"/>
<rect x="1165" y="625" width="51" height="248" rx="8" fill="#E8EEF8" stroke="#777" stroke-width="2"/>
<text transform="translate(1101,748) rotate(90)" font-size="18" text-anchor="middle" fill="#333">Layer  Norm</text>
<text transform="translate(1183,748) rotate(90)" font-size="18" text-anchor="middle" fill="#333">Feed  Forward</text>
<g stroke="#808080" stroke-width="3.5" fill="none">
<line x1="1044" y1="747" x2="1088" y2="747" marker-end="url(#ag)"/>
<line x1="1129" y1="747" x2="1164" y2="747" marker-end="url(#ag)"/>
<line x1="1216" y1="747" x2="1248" y2="747" marker-end="url(#ag)"/>
<path d="M898,877V895H1266V767" marker-end="url(#ag)"/>
<path d="M1284,747H1322V594" marker-end="url(#ag)"/>
<line x1="1339" y1="575" x2="1374" y2="575" marker-end="url(#ag)"/>
</g>
<circle cx="1266" cy="747" r="17" fill="#f5f5f5" stroke="#222" stroke-width="2"/>
<path d="M1256,747h20M1266,737v20" stroke="#222" stroke-width="1.5"/>
<circle cx="1322" cy="575" r="16" fill="#f5f5f5" stroke="#808080" stroke-width="2.5"/>
<path d="M1311,575h22M1322,564v22" stroke="#808080" stroke-width="2"/>
</svg>
</body></html>
